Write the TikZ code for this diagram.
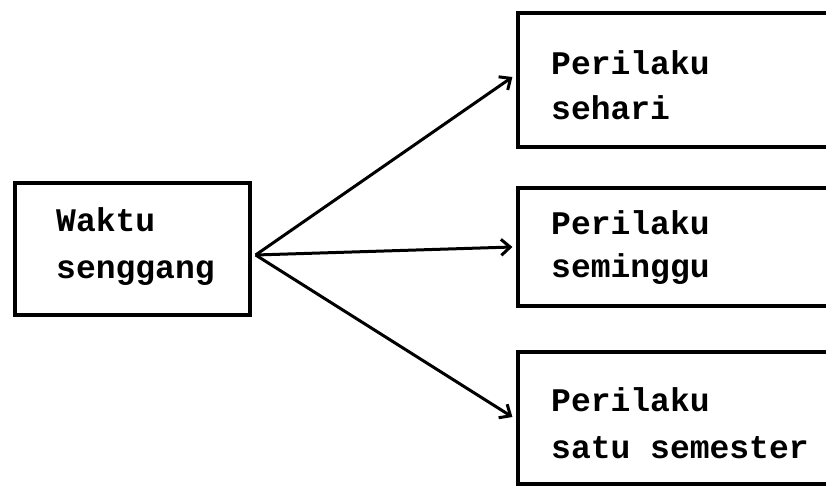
\documentclass[tikz,border=0pt]{standalone}
\usepackage{fontspec}
\setmonofont{Liberation Mono}
\usetikzlibrary{arrows.meta}
\tikzset{
  box/.style={draw=black, line width=3.2pt, rectangle, inner sep=0pt, minimum width=#1},
  lbl/.style={anchor=base west, inner sep=0pt, align=left,
    font=\ttfamily\bfseries\fontsize{33}{#1}\selectfont},
  conn/.style={line width=3pt, -{Straight Barb[length=9pt,width=16pt,line width=3pt]}}
}
\begin{document}
\begin{tikzpicture}[x=1pt,y=-1pt]
\fill[white] (0,0) rectangle (826,489);
\clip (0,0) rectangle (826,489);
% boxes
\node[box=235pt, minimum height=132pt] (w) at (132.5,249) {};
\node[box=332pt, minimum height=134pt] (a) at (684,80) {};
\node[box=332pt, minimum height=118pt] (b) at (684,247) {};
\node[box=332pt, minimum height=132pt] (c) at (684,418) {};
% texts (anchor at baseline of last line)
\node[lbl=47] (wt) at (56,278) {Waktu\\senggang};
\node[lbl=45] (at) at (551,120) {Perilaku\\sehari};
\node[lbl=43] (bt) at (551,277) {Perilaku\\seminggu};
\node[lbl=47] (ct) at (551,458) {Perilaku\\satu semester};
% connectors
\coordinate (o) at ([yshift=-6pt,xshift=4pt]w.east);
\draw[conn] (o) -- ([yshift=3pt,xshift=-4pt]a.west);
\draw[conn] (o) -- ([xshift=-4pt]b.west);
\draw[conn] (o) -- ([yshift=1pt,xshift=-4pt]c.west);
\end{tikzpicture}
\end{document}
